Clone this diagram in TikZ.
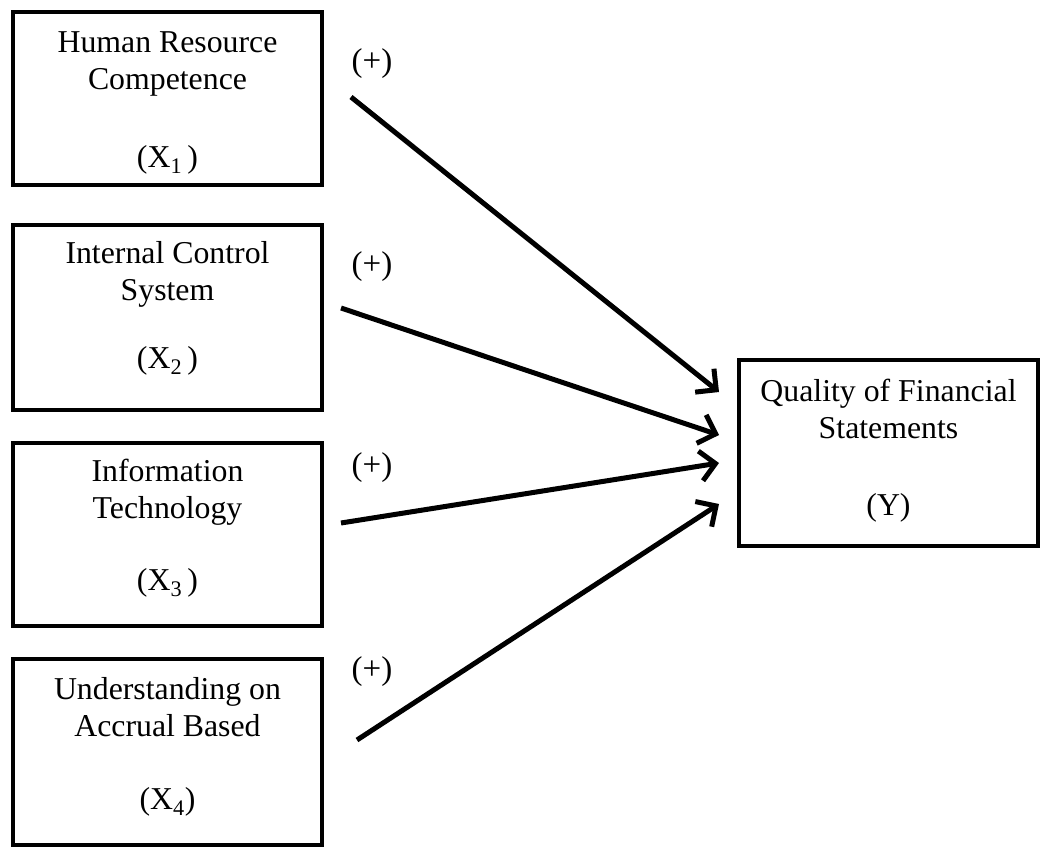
\documentclass[tikz,border=0pt]{standalone}
\usepackage{fontspec}
\setmainfont{Liberation Serif}
\usetikzlibrary{arrows.meta}

\begin{document}
\begin{tikzpicture}[x = 1pt, y = -1pt,
		varbox/.style = {draw, line width = 4pt, minimum width = 309pt},
		vartext/.style = {align = center, font = \fontsize{31.8}{37}\selectfont},
		plus/.style = {font = \fontsize{33}{38}\selectfont},
		effect/.style = {line width = 5pt, -{Straight Barb[length = 15pt, width = 30pt]}}]
		\useasboundingbox (0,0) rectangle (1041,849);
		\begin{scope}
		\node[varbox, minimum height = 173pt] (hrc) at (167.5,98.5) {};
		\node[varbox, minimum height = 185pt] (ics) at (167.5,317.5) {};
		\node[varbox, minimum height = 183pt] (itc) at (167.5,534.5) {};
		\node[varbox, minimum height = 186pt] (uab) at (167.5,752) {};
		\node[varbox, minimum width = 299pt, minimum height = 186pt] (qfs) at (888.5,453) {};
		\node[vartext] (hrcT) at (167.5,102.5) {Human Resource\\Competence\\[41pt](X\textsubscript{1}\,)};
		\node[vartext] (icsT) at (167.5,308.5) {Internal Control\\System\\[31pt](X\textsubscript{2}\,)};
		\node[vartext] (itcT) at (167.5,528.5) {Information\\Technology\\[35pt](X\textsubscript{3}\,)};
		\node[vartext] (uabT) at (167.5,747) {Understanding on\\Accrual Based\\[36pt](X\textsubscript{4})};
		\node[vartext] (qfsT) at (888.5,451) {Quality of Financial\\Statements\\[40pt](Y)};
		\node[plus] (p1) at (372,64) {(+)};
		\node[plus] (p2) at (372,267) {(+)};
		\node[plus] (p3) at (372,468) {(+)};
		\node[plus] (p4) at (372,672) {(+)};
		\coordinate (s1) at (351,97);
		\coordinate (s2) at (341,308);
		\coordinate (s3) at (341,523);
		\coordinate (s4) at (357,740);
		\coordinate (t1) at (719,392);
		\coordinate (t2) at (719,435);
		\coordinate (t3) at (719,463);
		\coordinate (t4) at (719,504);
		\draw[effect] (s1) -- (t1);
		\draw[effect] (s2) -- (t2);
		\draw[effect] (s3) -- (t3);
		\draw[effect] (s4) -- (t4);
		\end{scope}
		
		\end{tikzpicture}
\end{document}
